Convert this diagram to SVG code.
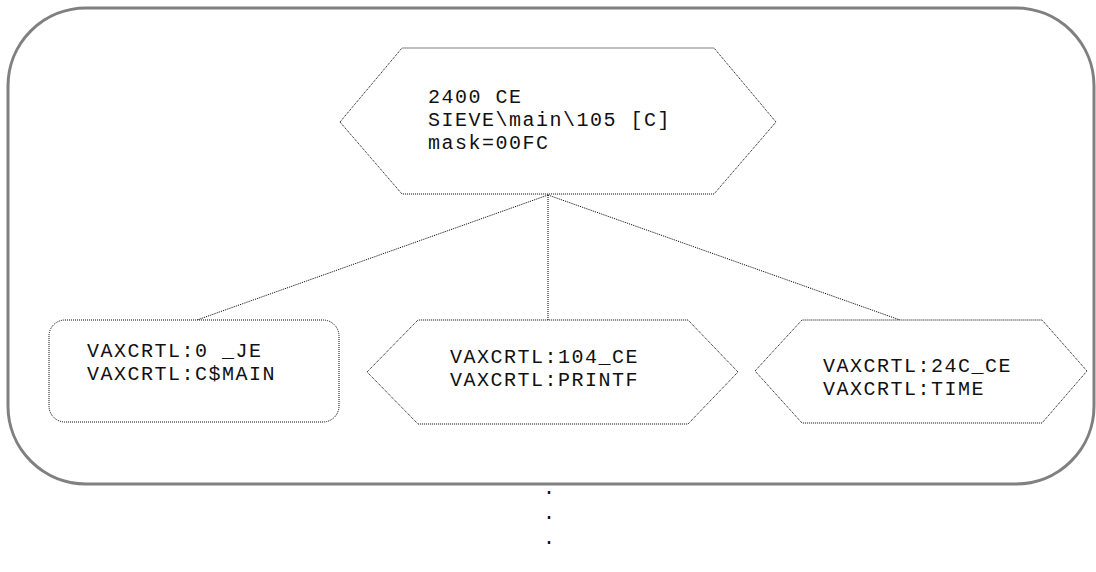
<svg xmlns="http://www.w3.org/2000/svg" width="1096" height="572" viewBox="0 0 1096 572">
<style>
.frame{fill:#fff;stroke:#808080;stroke-width:3}
.node{fill:#fff;stroke:#000;stroke-width:1;stroke-dasharray:1 1}
.edge{fill:none;stroke:#000;stroke-width:1;stroke-dasharray:1 1}
text{font-family:"Liberation Mono","Courier New",monospace;font-size:20px;letter-spacing:1.5px;fill:#111}
</style>
<rect width="1096" height="572" fill="#fff"/>
<rect class="frame" x="8" y="8" width="1086" height="476" rx="78" ry="78"/>
<g id="edges">
<line class="edge" x1="548" y1="195" x2="197" y2="320"/>
<line class="edge" x1="548" y1="195" x2="548" y2="320"/>
<line class="edge" x1="548" y1="195" x2="900" y2="320"/>
</g>
<g id="n0">
<polygon class="node" points="340,122 402,48 714,48 776,122 714,194 402,194"/>
<text x="428" y="103">2400 CE</text>
<text x="428" y="126">SIEVE\main\105 [C]</text>
<text x="428" y="149">mask=00FC</text>
</g>
<g id="n1">
<rect class="node" x="49" y="320" width="290" height="102" rx="16" ry="16"/>
<text x="87" y="357">VAXCRTL:0 _JE</text>
<text x="87" y="380">VAXCRTL:C$MAIN</text>
</g>
<g id="n2">
<polygon class="node" points="367,372 418,320 688,320 738,372 688,424 418,424"/>
<text x="450" y="363">VAXCRTL:104_CE</text>
<text x="450" y="386">VAXCRTL:PRINTF</text>
</g>
<g id="n3">
<polygon class="node" points="755,371 802,320 1042,320 1087,371 1042,423 802,423"/>
<text x="823" y="372">VAXCRTL:24C_CE</text>
<text x="823" y="395">VAXCRTL:TIME</text>
</g>
<g id="dots">
<text x="543" y="494">.</text>
<text x="543" y="519">.</text>
<text x="543" y="544">.</text>
</g>
</svg>
